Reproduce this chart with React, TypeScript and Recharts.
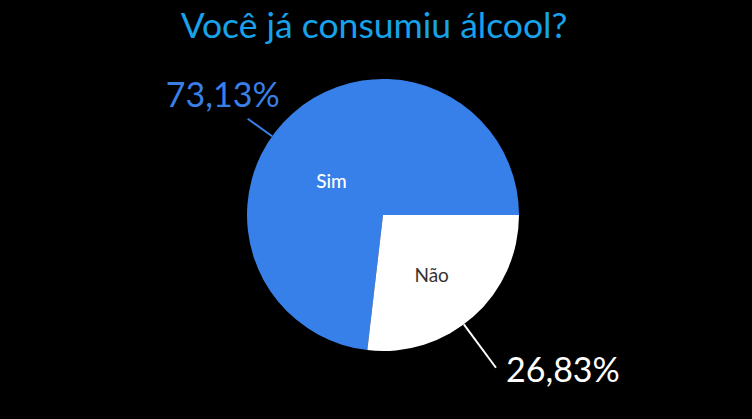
import React from "react";
import { PieChart, Pie, Cell } from "recharts";

const categories = ["Sim", "Não"];
const values = [73.13, 26.83];
const valueLabels = ["73,13%", "26,83%"];

const sliceColors = ["#377fe9", "#ffffff"];
const innerTextColors = ["#ffffff", "#333333"];
const outerTextColors = ["#3a7fe6", "#ffffff"];
const lineColors = ["#3a7fe6", "#ffffff"];

// label layout tweaks (degrees relative to slice mid angle, radii offsets)
const labelCfg = [
  { lineAngle: 12.9, lineLen: 30, tdx: -25, tdy: -12, anchor: "middle", innerAngle: 14.5, innerR: 62, innerWeight: 500 },
  { lineAngle: -5.2, lineLen: 54, tdx: 10, tdy: 14, anchor: "start", innerAngle: -2.5, innerR: 77, innerWeight: 400 },
];

const data = categories.map((c, i) => ({ name: c, value: values[i], label: valueLabels[i] }));

const RAD = Math.PI / 180;

const renderLabel = (props: any) => {
  const { cx, cy, midAngle, outerRadius, index } = props;
  const cfg = labelCfg[index];
  const la = (midAngle + cfg.lineAngle) * RAD;
  const x1 = cx + outerRadius * Math.cos(la);
  const y1 = cy - outerRadius * Math.sin(la);
  const x2 = cx + (outerRadius + cfg.lineLen) * Math.cos(la);
  const y2 = cy - (outerRadius + cfg.lineLen) * Math.sin(la);
  const ia = (midAngle + cfg.innerAngle) * RAD;
  const ix = cx + cfg.innerR * Math.cos(ia);
  const iy = cy - cfg.innerR * Math.sin(ia);
  return (
    <g key={`lbl-${index}`}>
      <text
        x={ix}
        y={iy}
        textAnchor="middle"
        dominantBaseline="central"
        fill={innerTextColors[index]}
        fontFamily="Lato"
        fontSize={19}
        fontWeight={cfg.innerWeight}
      >
        {categories[index]}
      </text>
      <line x1={x1} y1={y1} x2={x2} y2={y2} stroke={lineColors[index]} strokeWidth={2} />
      <text
        x={x2 + cfg.tdx}
        y={y2 + cfg.tdy}
        textAnchor={cfg.anchor}
        fill={outerTextColors[index]}
        fontFamily="Lato"
        fontSize={34}
        fontWeight={400}
      >
        {valueLabels[index]}
      </text>
    </g>
  );
};

export default function App() {
  return (
    <div style={{ position: "fixed", left: 0, top: 0, width: 752, height: 419, background: "#000", overflow: "hidden" }}>
      <div
        style={{
          position: "absolute",
          left: 0,
          top: 1,
          width: 748,
          textAlign: "center",
          fontFamily: "Lato",
          fontSize: 35.5,
          color: "#17a2ea",
          lineHeight: "48px",
        }}
      >
        Você já consumiu álcool?
      </div>
      <div style={{ position: "absolute", left: 0, top: 0 }}>
        <PieChart width={752} height={419} margin={{ top: 0, right: 0, bottom: 0, left: 0 }}>
          <Pie
            data={data}
            dataKey="value"
            nameKey="name"
            cx={383}
            cy={215}
            outerRadius={136}
            startAngle={0}
            endAngle={360}
            stroke="none"
            label={renderLabel}
            labelLine={false}
            isAnimationActive={false}
          >
            {data.map((d, i) => (
              <Cell key={d.name} fill={sliceColors[i]} />
            ))}
          </Pie>
        </PieChart>
      </div>
    </div>
  );
}
